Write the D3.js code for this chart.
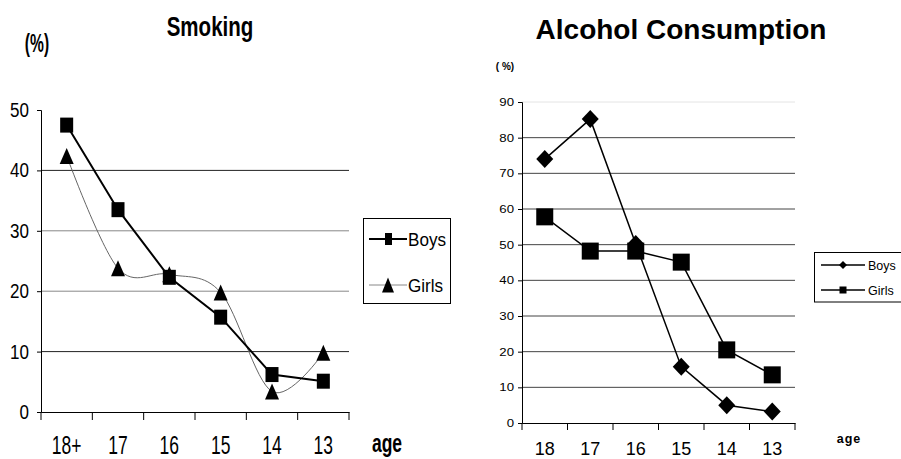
<!DOCTYPE html>
<html>
<head>
<meta charset="utf-8">
<script src="https://cdn.jsdelivr.net/npm/d3@7/dist/d3.min.js"></script>
<style>
  html, body { margin: 0; padding: 0; background: #fff; }
  svg { display: block; }
  text { font-family: "Liberation Sans", Arial, sans-serif; fill: #000; }
</style>
</head>
<body>
<svg id="chart" width="901" height="459"></svg>
<script>
// ---- data ----
const smokingAges = ["18+", "17", "16", "15", "14", "13"];
const smokingBoys = [47.5, 33.5, 22.3, 15.7, 6.2, 5.1];
const smokingGirls = [42.4, 23.8, 22.8, 19.8, 3.4, 9.8];
const smokingTicks = [0, 10, 20, 30, 40, 50];

const alcoholAges = ["18", "17", "16", "15", "14", "13"];
const alcoholBoys = [74, 85.2, 50.2, 15.8, 5, 3.2];
const alcoholGirls = [57.8, 48.2, 48.2, 45.1, 20.5, 13.5];
const alcoholTicks = [0, 10, 20, 30, 40, 50, 60, 70, 80, 90];

const seriesNames = ["Boys", "Girls"];

const svg = d3.select("#chart");

// text helper with optional horizontal condensing
function label(g, x, y, str, o) {
  o = o || {};
  const t = g.append("text")
    .attr("transform", `translate(${x},${y}) scale(${o.sx || 1},1)`)
    .attr("text-anchor", o.anchor || "start")
    .style("font-size", (o.size || 12) + "px")
    .style("font-weight", o.weight || "normal")
    .text(str);
  if (o.ls) t.style("letter-spacing", o.ls + "px");
  return t;
}

// ================= Smoking =================
{
  const g = svg.append("g");
  const x = d3.scaleBand().domain(smokingAges).range([41, 349]);
  const y = d3.scaleLinear().domain([0, 50]).range([412, 110]);
  const cx = a => x(a) + x.bandwidth() / 2;

  // gridlines (the middle two print lighter)
  g.selectAll("line.grid").data(smokingTicks.filter(v => v > 0 && v < 50)).enter()
    .append("line")
    .attr("x1", x.range()[0]).attr("x2", x.range()[1])
    .attr("y1", d => y(d)).attr("y2", d => y(d))
    .attr("stroke", d => (d === 20 || d === 30 ? "#888" : "#222"))
    .attr("stroke-width", 1);

  // y axis
  const yAxis = g.append("g").attr("transform", `translate(${x.range()[0]},0)`)
    .call(d3.axisLeft(y).tickValues(smokingTicks).tickSize(4).tickFormat(""));
  yAxis.select(".domain").attr("stroke", "#000");
  yAxis.selectAll(".tick line").attr("stroke", "#000");
  smokingTicks.forEach(v => label(g, 29, y(v) + 7, String(v), { size: 20.5, sx: 0.83, anchor: "end" }));

  // x axis with ticks on the category boundaries
  const xAxis = g.append("g").attr("transform", `translate(0,${y(0)})`)
    .call(d3.axisBottom(x).tickSize(0).tickFormat(""));
  xAxis.select(".domain").attr("stroke", "#000");
  const bounds = smokingAges.map(a => x(a)).concat([x.range()[1]]);
  g.selectAll("line.xt").data(bounds).enter().append("line")
    .attr("x1", d => d).attr("x2", d => d)
    .attr("y1", y(0)).attr("y2", y(0) + 8)
    .attr("stroke", "#000");
  smokingAges.forEach(a => label(g, cx(a), 453.5, a, { size: 25, sx: 0.7, anchor: "middle" }));

  // Girls: thin smoothed grey line with triangles
  const girlsPts = smokingAges.map((a, i) => [cx(a), y(smokingGirls[i])]);
  g.append("path")
    .attr("d", d3.line().curve(d3.curveCardinal.tension(0))(girlsPts))
    .attr("fill", "none").attr("stroke", "#666").attr("stroke-width", 1);

  // Boys: heavier straight black line with squares
  const boysPts = smokingAges.map((a, i) => [cx(a), y(smokingBoys[i])]);
  g.append("path")
    .attr("d", d3.line()(boysPts))
    .attr("fill", "none").attr("stroke", "#000").attr("stroke-width", 2);

  const tri = (w, h) => `M0,${-h / 2}L${w / 2},${h / 2}L${-w / 2},${h / 2}Z`;
  g.selectAll("path.tri").data(girlsPts).enter().append("path")
    .attr("d", tri(14, 16))
    .attr("transform", d => `translate(${d[0]},${d[1]})`)
    .attr("fill", "#000");
  g.selectAll("rect.sq").data(boysPts).enter().append("rect")
    .attr("x", d => d[0] - 6.5).attr("y", d => d[1] - 7.5)
    .attr("width", 13).attr("height", 15).attr("fill", "#000");

  // titles
  label(g, 210, 36, "Smoking", { size: 27, sx: 0.76, weight: "bold", anchor: "middle" });
  label(g, 37, 52, "(%)", { size: 26, sx: 0.6, weight: "bold", anchor: "middle" });
  label(g, 387, 452, "age", { size: 25, sx: 0.7, weight: "bold", anchor: "middle" });

  // legend
  const lg = g.append("g");
  lg.append("rect").attr("x", 363.5).attr("y", 218.5).attr("width", 87).attr("height", 85)
    .attr("fill", "#fff").attr("stroke", "#000");
  const rows = [239, 285];
  lg.append("line").attr("x1", 369).attr("x2", 407).attr("y1", rows[0]).attr("y2", rows[0])
    .attr("stroke", "#000").attr("stroke-width", 2);
  lg.append("rect").attr("x", 385).attr("y", rows[0] - 6).attr("width", 7).attr("height", 12).attr("fill", "#000");
  lg.append("line").attr("x1", 369).attr("x2", 407).attr("y1", rows[1]).attr("y2", rows[1])
    .attr("stroke", "#888").attr("stroke-width", 1);
  lg.append("path").attr("d", tri(12, 15)).attr("transform", `translate(388,${rows[1]})`).attr("fill", "#000");
  seriesNames.forEach((n, i) => label(lg, 408, rows[i] + 7, n, { size: 19, sx: 0.9 }));
}

// ================= Alcohol Consumption =================
{
  const g = svg.append("g");
  const x = d3.scaleBand().domain(alcoholAges).range([522, 795]);
  const y = d3.scaleLinear().domain([0, 90]).range([423, 102]);
  const cx = a => x(a) + x.bandwidth() / 2;

  g.selectAll("line.grid").data(alcoholTicks.filter(v => v > 0)).enter()
    .append("line")
    .attr("x1", x.range()[0]).attr("x2", x.range()[1])
    .attr("y1", d => y(d)).attr("y2", d => y(d))
    .attr("stroke", d => (d === 90 ? "#e4e4e4" : "#444"))
    .attr("stroke-width", 1);

  const yAxis = g.append("g").attr("transform", `translate(${x.range()[0]},0)`)
    .call(d3.axisLeft(y).tickValues(alcoholTicks).tickSize(4).tickFormat(""));
  yAxis.select(".domain").attr("stroke", "#000");
  yAxis.selectAll(".tick line").attr("stroke", "#000");
  alcoholTicks.forEach(v => label(g, 514, y(v) + 4, String(v), { size: 11.5, sx: 1.15, anchor: "end" }));

  const xAxis = g.append("g").attr("transform", `translate(0,${y(0)})`)
    .call(d3.axisBottom(x).tickSize(0).tickFormat(""));
  xAxis.select(".domain").attr("stroke", "#000");
  const bounds = alcoholAges.map(a => x(a)).concat([x.range()[1]]);
  g.selectAll("line.xt").data(bounds).enter().append("line")
    .attr("x1", d => d).attr("x2", d => d)
    .attr("y1", y(0)).attr("y2", y(0) + 7)
    .attr("stroke", "#000");
  alcoholAges.forEach(a => label(g, cx(a), 455, a, { size: 18, anchor: "middle" }));

  const boysPts = alcoholAges.map((a, i) => [cx(a), y(alcoholBoys[i])]);
  const girlsPts = alcoholAges.map((a, i) => [cx(a), y(alcoholGirls[i])]);
  [boysPts, girlsPts].forEach(pts => g.append("path")
    .attr("d", d3.line()(pts))
    .attr("fill", "none").attr("stroke", "#000").attr("stroke-width", 1.5));

  const diamond = (w, h) => `M0,${-h / 2}L${w / 2},0L0,${h / 2}L${-w / 2},0Z`;
  g.selectAll("path.dia").data(boysPts).enter().append("path")
    .attr("d", diamond(17, 18))
    .attr("transform", d => `translate(${d[0]},${d[1]})`)
    .attr("fill", "#000");
  g.selectAll("rect.sq").data(girlsPts).enter().append("rect")
    .attr("x", d => d[0] - 8.5).attr("y", d => d[1] - 8.5)
    .attr("width", 17).attr("height", 17).attr("fill", "#000");

  label(g, 681, 39, "Alcohol Consumption", { size: 28, weight: "bold", anchor: "middle" });
  label(g, 505, 70, "( %)", { size: 10, weight: "bold", anchor: "middle" });
  label(g, 849, 443, "age", { size: 12.5, weight: "bold", anchor: "middle", ls: 1 });

  // legend
  const lg = g.append("g");
  lg.append("rect").attr("x", 814.5).attr("y", 252.5).attr("width", 100).attr("height", 49.5)
    .attr("fill", "#fff").attr("stroke", "#000");
  const rows = [265, 290];
  rows.forEach(r => lg.append("line").attr("x1", 821).attr("x2", 865).attr("y1", r).attr("y2", r)
    .attr("stroke", "#000").attr("stroke-width", 1.5));
  lg.append("path").attr("d", diamond(8, 8)).attr("transform", `translate(843,${rows[0]})`).attr("fill", "#000");
  lg.append("rect").attr("x", 839.5).attr("y", rows[1] - 3.5).attr("width", 7).attr("height", 7).attr("fill", "#000");
  seriesNames.forEach((n, i) => label(lg, 868, rows[i] + 4.5, n, { size: 12.5 }));
}
</script>
</body>
</html>
